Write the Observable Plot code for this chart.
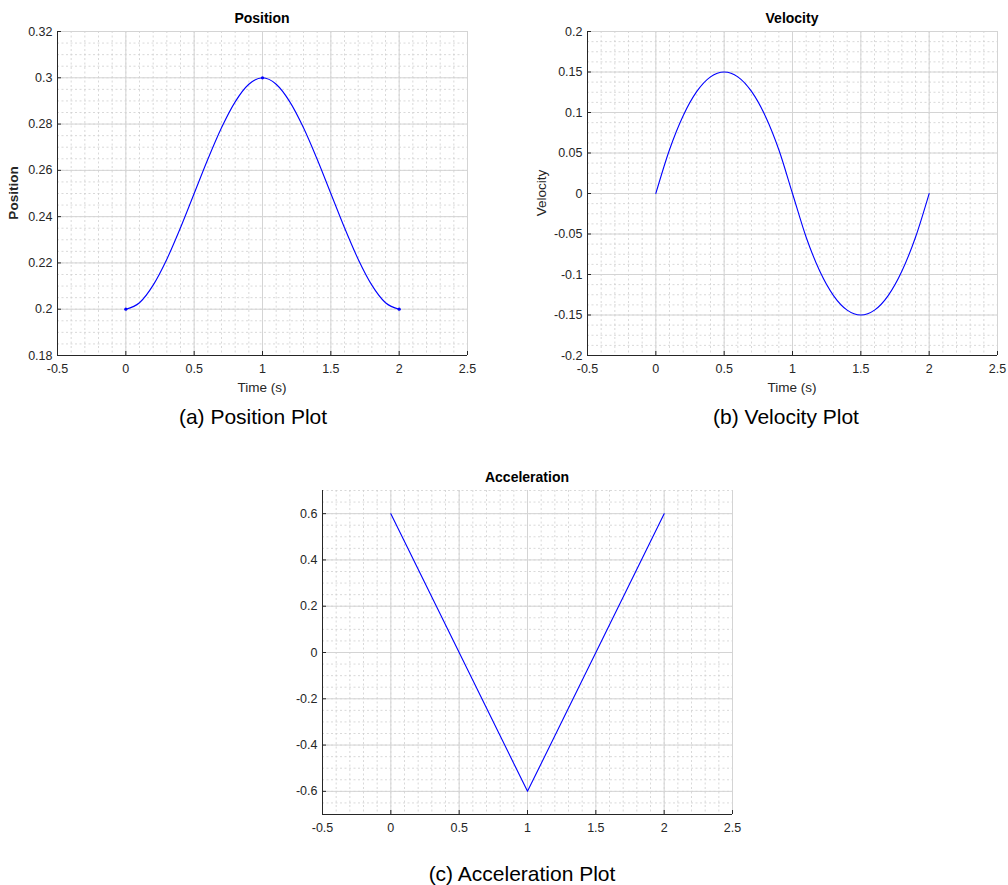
<!DOCTYPE html>
<html>
<head>
<meta charset="utf-8">
<script src="https://cdn.jsdelivr.net/npm/d3@7"></script>
<script src="https://cdn.jsdelivr.net/npm/@observablehq/plot@0.6"></script>
<style>
  html, body { margin: 0; padding: 0; background: #fff; }
  #root { position: relative; width: 1008px; height: 885px; overflow: hidden; font-family: "Liberation Sans", Arial, sans-serif; }
  .lbl { position: absolute; transform: translate(-50%, -50%); white-space: nowrap; color: #262626; line-height: 1; }
  .title { font-weight: bold; font-size: 14px; color: #000; }
  .axl { font-size: 13.5px; }
  .cap { font-size: 21px; color: #000; }
  .rot { transform: translate(-50%, -50%) rotate(-90deg); }
</style>
</head>
<body>
<div id="root"></div>
<script>
// ---- data ----
const time = [0, 0.1, 0.2, 0.3, 0.4, 0.5, 0.6, 0.7, 0.8, 0.9, 1.0, 1.1, 1.2, 1.3, 1.4, 1.5, 1.6, 1.7, 1.8, 1.9, 2.0];
const position = [0.2, 0.2028, 0.2104, 0.2216, 0.2352, 0.25, 0.2648, 0.2784, 0.2896, 0.2972, 0.3,
                  0.2972, 0.2896, 0.2784, 0.2648, 0.25, 0.2352, 0.2216, 0.2104, 0.2028, 0.2];
const velocity = [0, 0.054, 0.096, 0.126, 0.144, 0.15, 0.144, 0.126, 0.096, 0.054, 0,
                  -0.054, -0.096, -0.126, -0.144, -0.15, -0.144, -0.126, -0.096, -0.054, 0];
const accelTime = [0, 1, 2];
const acceleration = [0.6, -0.6, 0.6];
const markerTime = [0, 1, 2];
const markerPosition = [0.2, 0.3, 0.2];

// ---- tick labels ----
const xTicks = [-0.5, 0, 0.5, 1, 1.5, 2, 2.5];
const posTicks = [0.18, 0.2, 0.22, 0.24, 0.26, 0.28, 0.3, 0.32];
const velTicks = [-0.2, -0.15, -0.1, -0.05, 0, 0.05, 0.1, 0.15, 0.2];
const accTicks = [-0.6, -0.4, -0.2, 0, 0.2, 0.4, 0.6];

const xMinor = d3.range(-5, 26).map(i => i / 10);
const posMinor = d3.range(36, 65).map(i => i * 0.005);
const velMinor = d3.range(-16, 17).map(i => i * 0.0125);
const accMinor = d3.range(-14, 15).map(i => i * 0.05);

const FW = 410, FH = 324;
const INK = "#262626";

function chart(cfg) {
  const marks = [
    Plot.ruleX(xMinor, {x: d => d, stroke: "#cfcfcf", strokeDasharray: "2,2.5", strokeWidth: 0.8}),
    Plot.ruleY(cfg.minor, {y: d => d, stroke: "#cfcfcf", strokeDasharray: "2,2.5", strokeWidth: 0.8}),
    Plot.ruleX(xTicks, {x: d => d, stroke: "#d4d4d4"}),
    Plot.ruleY(cfg.ticks, {y: d => d, stroke: "#d4d4d4"}),
    Plot.axisX({ticks: xTicks, tickFormat: d => String(d), tickSize: 0, tickPadding: 9, label: null}),
    Plot.axisY({ticks: cfg.ticks, tickFormat: d => String(d), tickSize: 0, tickPadding: 5, label: null}),
    Plot.tickX(xTicks, {x: d => d, insetTop: FH - 4, stroke: INK}),
    Plot.tickY(cfg.ticks, {y: d => d, insetRight: FW - 4, stroke: INK}),
    Plot.ruleX([-0.5], {x: d => d, stroke: INK}),
    Plot.ruleY([cfg.domain[0]], {y: d => d, stroke: INK}),
    Plot.line(cfg.xs.map((t, i) => ({t, v: cfg.ys[i]})), {x: "t", y: "v", stroke: "#0000ff", strokeWidth: 1.1, curve: cfg.curve || "linear"})
  ];
  if (cfg.markers) {
    marks.push(Plot.dot(cfg.markers[0].map((t, i) => ({t, v: cfg.markers[1][i]})), {x: "t", y: "v", r: 1.6, fill: "#0000ff", stroke: null}));
  }
  const svg = Plot.plot({
    width: cfg.width, height: cfg.height,
    marginLeft: cfg.ml, marginTop: cfg.mt,
    marginRight: cfg.width - cfg.ml - FW, marginBottom: cfg.height - cfg.mt - FH,
    x: {domain: [-0.5, 2.5], label: null},
    y: {domain: cfg.domain, label: null},
    style: {fontFamily: '"Liberation Sans", Arial, sans-serif', fontSize: "12.5px", color: INK, background: "transparent", overflow: "visible"},
    marks
  });
  svg.style.position = "absolute";
  svg.style.left = cfg.left + "px";
  svg.style.top = cfg.top + "px";
  return svg;
}

const root = document.getElementById("root");
function label(text, x, y, cls) {
  const d = document.createElement("div");
  d.className = "lbl " + cls;
  d.textContent = text;
  d.style.left = x + "px";
  d.style.top = y + "px";
  root.appendChild(d);
  return d;
}

root.appendChild(chart({left: 0, top: 0, width: 500, height: 400, ml: 57, mt: 31,
  domain: [0.18, 0.32], ticks: posTicks, minor: posMinor, xs: time, ys: position, curve: "monotone-x",
  markers: [markerTime, markerPosition]}));
root.appendChild(chart({left: 520, top: 0, width: 488, height: 400, ml: 67, mt: 31,
  domain: [-0.2, 0.2], ticks: velTicks, minor: velMinor, xs: time, ys: velocity, curve: "monotone-x"}));
root.appendChild(chart({left: 260, top: 460, width: 500, height: 400, ml: 62, mt: 30,
  domain: [-0.7, 0.7], ticks: accTicks, minor: accMinor, xs: accelTime, ys: acceleration}));

label("Position", 262, 18, "title");
label("Time (s)", 262, 388, "axl");
const posY = label("Position", 14, 193, "axl rot");
posY.style.fontWeight = "bold";
label("(a) Position Plot", 253, 416, "cap");

label("Velocity", 792, 18, "title");
label("Time (s)", 792, 388, "axl");
label("Velocity", 542, 193, "axl rot");
label("(b) Velocity Plot", 786, 416, "cap");

label("Acceleration", 527, 477, "title");
label("(c) Acceleration Plot", 522, 873, "cap");
</script>
</body>
</html>
